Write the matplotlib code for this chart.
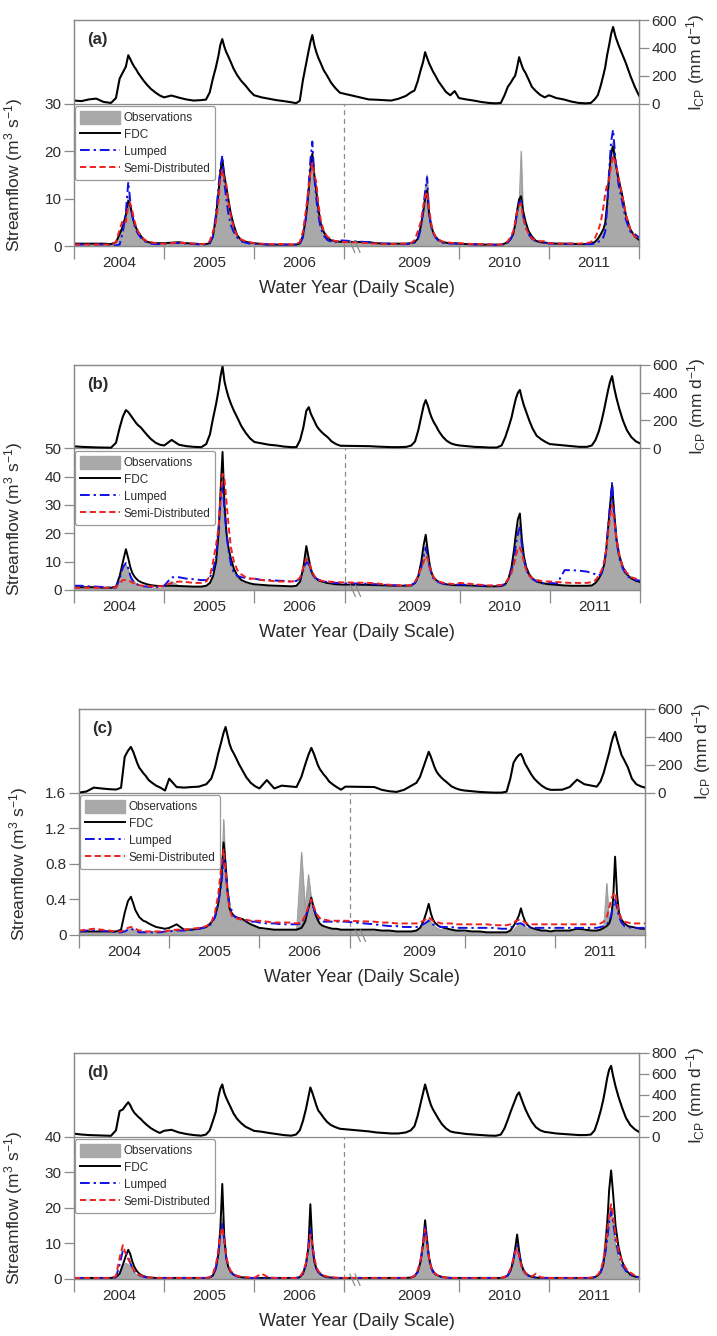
#!/usr/bin/env python3
"""Streamflow (obs / FDC / lumped / semi-distributed) with I_CP panels, four catchments."""

import matplotlib

matplotlib.use("Agg")
import matplotlib.pyplot as plt
import numpy as np
from matplotlib.lines import Line2D
from matplotlib.patches import Patch
from matplotlib.transforms import blended_transform_factory

# ---- time axis: three water years, a break, three water years (days) ----
YEARS = ["2004", "2005", "2006", "2009", "2010", "2011"]
YEAR_START = [0, 365, 730, 1195, 1560, 1925]
YEAR_END = 2290
BREAK_DAY = 1095
OFFSETS = [0, 30, 60, 90, 120, 150, 170, 185, 198, 210, 220, 228, 236, 244, 252, 260, 270, 282, 296, 312, 330, 348]

# ---- panel (a) ----
A_ICP = [22, 18, 30, 36, 12, 5, 40, 180, 224, 265, 347, 320, 290, 265, 245, 220, 195, 165, 135, 105, 80, 58,
         45, 58, 43, 30, 22, 25, 29, 80, 180, 260, 340, 420, 463, 410, 370, 340, 300, 250, 205, 165, 130, 90,
         60, 45, 35, 25, 18, 10, 3, 20, 170, 280, 370, 440, 492, 420, 370, 330, 290, 240, 200, 150, 110, 78,
         30, 28, 25, 22, 35, 55, 80, 94, 160, 240, 300, 369, 330, 290, 260, 230, 200, 160, 125, 85, 60, 90,
         40, 30, 22, 12, 5, 2, 5, 60, 120, 150, 180, 200, 260, 333, 290, 250, 220, 175, 120, 90, 62, 45,
         60, 40, 30, 15, 5, 2, 5, 30, 60, 130, 200, 260, 350, 420, 500, 550, 480, 420, 360, 290, 200, 120,
         58]
A_OBS = [0.4, 0.4, 0.4, 0.4, 0.4, 0.3, 0.6, 2.0, 4.0, 6.8, 10.5, 8.8, 6.6, 4.6, 3.5, 2.7, 2.0, 1.3, 0.8, 0.6, 0.5, 0.5,
         0.5, 0.6, 0.6, 0.5, 0.4, 0.3, 0.3, 0.5, 1.6, 5.5, 10.5, 15.0, 17.5, 14.0, 11.5, 9.0, 6.2, 4.0, 2.0, 1.1, 0.7, 0.5,
         0.5, 0.3, 0.2, 0.2, 0.2, 0.2, 0.2, 0.4, 2.0, 5.5, 11.0, 16.5, 19.0, 14.0, 10.5, 7.0, 4.2, 2.6, 1.5, 1.0, 0.8, 0.8,
         0.7, 0.5, 0.4, 0.4, 0.4, 0.4, 0.5, 0.7, 1.3, 3.5, 7.0, 12.0, 15.0, 6.5, 4.0, 2.7, 1.8, 1.2, 0.8, 0.6, 0.5, 0.5,
         0.4, 0.3, 0.3, 0.3, 0.2, 0.2, 0.2, 0.4, 0.7, 1.3, 2.2, 4.0, 6.5, 9.0, 20.0, 7.0, 4.5, 2.8, 1.6, 0.9, 0.6, 0.5,
         0.5, 0.4, 0.4, 0.4, 0.3, 0.3, 0.4, 0.6, 1.2, 2.0, 3.0, 4.5, 8.5, 15.5, 20.5, 22.0, 18.0, 14.5, 10.5, 6.0, 3.2, 1.8,
         1.2]
A_FDC = [0.5, 0.5, 0.5, 0.5, 0.5, 0.4, 0.8, 2.5, 4.2, 6.5, 9.5, 8.5, 6.5, 4.8, 3.8, 3.0, 2.2, 1.4, 0.9, 0.7, 0.6, 0.6,
         0.6, 0.7, 0.8, 0.6, 0.5, 0.4, 0.4, 0.6, 2.0, 6.0, 11.0, 15.5, 18.4, 15.0, 12.5, 10.0, 7.0, 4.5, 2.3, 1.3, 0.9, 0.7,
         0.6, 0.4, 0.3, 0.3, 0.3, 0.3, 0.3, 0.5, 2.2, 6.0, 11.0, 16.0, 19.5, 15.0, 11.7, 8.0, 4.8, 3.0, 1.8, 1.2, 1.0, 0.9,
         0.8, 0.6, 0.5, 0.5, 0.5, 0.5, 0.6, 0.8, 1.5, 4.0, 7.0, 10.0, 11.7, 7.0, 4.5, 3.0, 2.0, 1.3, 0.9, 0.7, 0.6, 0.6,
         0.5, 0.4, 0.4, 0.3, 0.3, 0.3, 0.3, 0.5, 0.8, 1.5, 2.5, 4.5, 7.5, 9.8, 10.5, 7.5, 5.2, 3.2, 2.0, 1.1, 0.8, 0.7,
         0.6, 0.5, 0.5, 0.5, 0.4, 0.4, 0.5, 0.8, 1.5, 2.5, 3.5, 4.8, 9.0, 15.0, 19.5, 21.0, 17.5, 14.0, 11.0, 6.5, 3.5, 2.0,
         1.3]
A_LUM = [0.3, 0.3, 0.3, 0.3, 0.3, 0.2, 0.1, 0.3, 3.0, 7.0, 13.5, 9.5, 6.5, 4.5, 3.3, 2.5, 1.8, 1.2, 0.7, 0.5, 0.4, 0.4,
         0.5, 0.6, 0.6, 0.5, 0.4, 0.3, 0.3, 0.5, 2.0, 6.5, 12.0, 16.5, 19.0, 13.5, 10.0, 7.0, 4.5, 3.0, 1.8, 1.0, 0.7, 0.5,
         0.5, 0.4, 0.3, 0.3, 0.3, 0.3, 0.3, 0.4, 1.8, 6.0, 12.0, 18.0, 22.0, 14.5, 10.0, 6.5, 3.8, 2.2, 1.3, 0.9, 0.8, 1.2,
         0.8, 0.6, 0.5, 0.5, 0.4, 0.4, 0.5, 0.7, 1.2, 3.5, 7.5, 11.5, 14.5, 7.0, 4.2, 2.8, 1.8, 1.1, 0.7, 0.6, 0.5, 0.5,
         0.5, 0.4, 0.3, 0.3, 0.3, 0.2, 0.2, 0.4, 0.7, 1.5, 2.5, 4.5, 7.0, 9.0, 9.5, 6.5, 4.2, 2.5, 1.5, 1.0, 0.8, 0.8,
         0.5, 0.5, 0.4, 0.4, 0.4, 0.4, 0.4, 0.5, 0.8, 1.2, 1.8, 3.0, 8.0, 16.0, 22.0, 24.5, 18.0, 13.0, 9.5, 5.5, 3.0, 2.5,
         1.8]
A_SEMI = [0.3, 0.3, 0.3, 0.3, 0.3, 0.3, 0.8, 3.5, 5.5, 5.0, 8.5, 9.0, 7.5, 5.5, 4.0, 3.0, 2.2, 1.5, 1.0, 0.8, 0.6, 0.5,
          0.5, 0.6, 0.7, 0.6, 0.5, 0.4, 0.5, 1.0, 3.0, 5.0, 9.0, 14.0, 16.0, 14.0, 13.0, 9.5, 6.5, 4.0, 2.2, 1.4, 1.0, 0.8,
          0.6, 0.5, 0.4, 0.4, 0.4, 0.3, 0.4, 0.8, 3.0, 7.5, 12.0, 15.5, 17.5, 15.0, 13.5, 9.0, 5.5, 3.2, 2.0, 1.4, 1.0, 0.9,
          0.6, 0.5, 0.4, 0.4, 0.5, 0.5, 0.6, 1.2, 3.0, 5.0, 8.0, 10.5, 11.5, 8.0, 5.0, 3.2, 2.0, 1.4, 1.0, 0.8, 0.7, 0.6,
          0.6, 0.5, 0.4, 0.4, 0.3, 0.3, 0.3, 0.6, 1.0, 2.0, 3.0, 5.0, 7.5, 8.5, 9.0, 6.0, 4.0, 2.6, 1.6, 1.2, 1.0, 1.0,
          0.6, 0.5, 0.5, 0.5, 0.5, 0.6, 0.8, 1.5, 3.0, 5.0, 8.0, 11.0, 13.0, 14.0, 17.0, 19.0, 17.5, 14.5, 11.0, 6.5, 3.5, 2.0,
          1.5]

# ---- panel (b) ----
B_ICP = [14, 10, 8, 6, 5, 4, 40, 150, 230, 275, 260, 240, 220, 200, 180, 165, 150, 125, 95, 65, 40, 25,
         20, 60, 25, 15, 10, 8, 30, 100, 220, 320, 420, 520, 590, 480, 420, 370, 320, 270, 220, 160, 110, 70,
         45, 35, 25, 20, 12, 8, 8, 60, 150, 270, 296, 250, 220, 190, 160, 140, 120, 100, 80, 50, 30, 18,
         15, 12, 10, 8, 8, 10, 20, 50, 130, 230, 310, 347, 310, 260, 220, 190, 160, 120, 85, 55, 35, 25,
         20, 15, 10, 8, 5, 5, 20, 80, 150, 220, 300, 360, 400, 420, 360, 310, 260, 200, 140, 90, 65, 45,
         30, 25, 20, 15, 10, 10, 20, 60, 120, 200, 280, 350, 420, 480, 520, 440, 360, 280, 200, 130, 80, 50,
         35]
B_OBS = [0.5, 0.5, 0.5, 0.5, 0.5, 0.5, 0.8, 3.5, 7.5, 9.0, 7.0, 5.0, 3.8, 3.0, 2.4, 2.0, 1.6, 1.3, 1.0, 0.8, 0.7, 0.6,
         1.2, 3.0, 1.5, 1.2, 1.0, 1.0, 1.2, 2.0, 4.0, 9.0, 18.0, 33.0, 45.0, 28.0, 18.0, 13.0, 9.0, 6.0, 4.0, 2.8, 2.2, 1.8,
         1.5, 1.3, 1.2, 1.1, 1.0, 1.0, 1.2, 2.5, 7.0, 13.0, 9.0, 6.0, 4.5, 3.5, 3.0, 2.6, 2.3, 2.0, 1.8, 1.6, 1.5, 1.4,
         1.3, 1.2, 1.1, 1.0, 1.0, 1.0, 1.2, 2.0, 4.0, 8.0, 13.0, 16.0, 11.0, 7.0, 5.0, 3.5, 2.7, 2.2, 1.8, 1.5, 1.3, 1.2,
         1.2, 1.1, 1.0, 1.0, 1.0, 1.0, 1.1, 1.6, 3.5, 7.0, 12.0, 18.0, 22.0, 24.0, 16.0, 10.0, 7.0, 4.8, 3.3, 2.4, 2.0, 1.8,
         1.5, 1.4, 1.3, 1.2, 1.2, 1.2, 1.3, 2.0, 3.5, 5.5, 8.5, 13.0, 20.0, 28.0, 34.0, 26.0, 16.0, 10.0, 6.5, 4.5, 3.2, 2.6,
         2.3]
B_FDC = [1.0, 1.0, 1.0, 1.0, 0.8, 0.8, 1.2, 5.0, 10.0, 14.4, 11.0, 8.0, 6.0, 4.8, 4.0, 3.3, 2.8, 2.4, 2.0, 1.7, 1.5, 1.4,
         1.5, 1.5, 1.4, 1.3, 1.2, 1.2, 1.5, 2.5, 5.0, 10.0, 20.0, 35.0, 48.7, 30.0, 20.0, 15.0, 11.0, 7.5, 5.0, 3.5, 2.8, 2.3,
         2.0, 1.8, 1.6, 1.5, 1.4, 1.3, 1.5, 3.0, 8.0, 15.5, 11.0, 7.5, 5.5, 4.5, 3.8, 3.3, 3.0, 2.7, 2.4, 2.2, 2.0, 1.9,
         1.8, 1.7, 1.6, 1.5, 1.5, 1.5, 1.6, 2.5, 5.0, 10.0, 16.0, 19.5, 14.0, 9.0, 6.0, 4.5, 3.5, 2.8, 2.3, 2.0, 1.8, 1.7,
         1.7, 1.6, 1.5, 1.4, 1.3, 1.3, 1.4, 2.0, 4.0, 8.0, 14.0, 20.0, 25.0, 27.0, 18.0, 12.0, 8.0, 5.5, 4.0, 3.0, 2.5, 2.2,
         2.0, 1.8, 1.6, 1.5, 1.5, 1.5, 1.6, 2.5, 4.0, 6.0, 9.0, 14.0, 22.0, 30.0, 37.0, 28.0, 18.0, 12.0, 8.0, 5.5, 4.0, 3.2,
         2.8]
B_LUM = [1.5, 1.5, 1.3, 1.2, 1.0, 0.8, 0.8, 4.0, 8.0, 9.5, 7.5, 5.0, 3.5, 2.8, 2.2, 1.8, 1.5, 1.3, 1.2, 1.1, 1.0, 1.0,
         1.5, 4.5, 4.5, 4.0, 3.8, 3.5, 3.5, 4.5, 7.0, 12.0, 22.0, 32.0, 37.0, 28.0, 20.0, 14.0, 9.0, 6.0, 5.0, 4.5, 4.3, 4.0,
         4.0, 3.5, 3.5, 3.3, 3.2, 3.0, 3.2, 4.0, 7.0, 10.0, 9.0, 7.0, 5.5, 4.5, 4.0, 3.6, 3.3, 3.0, 2.8, 2.6, 2.5, 2.4,
         2.2, 2.0, 1.8, 1.7, 1.6, 1.6, 1.8, 2.5, 4.5, 8.0, 12.0, 15.0, 12.0, 8.0, 5.5, 4.0, 3.2, 2.7, 2.3, 2.0, 1.9, 1.8,
         2.0, 1.8, 1.7, 1.6, 1.5, 1.5, 1.6, 2.2, 4.0, 7.0, 11.0, 16.0, 20.0, 22.0, 16.0, 11.0, 7.0, 5.0, 3.8, 3.0, 2.5, 2.3,
         2.5, 2.3, 7.0, 7.0, 6.8, 6.5, 6.0, 5.5, 5.0, 6.0, 9.0, 14.0, 22.0, 30.0, 38.0, 27.0, 17.0, 11.0, 7.5, 5.0, 4.0, 3.5,
         3.3]
B_SEMI = [0.8, 0.8, 0.8, 0.8, 0.8, 0.8, 1.0, 2.5, 3.5, 3.5, 3.3, 3.0, 2.6, 2.3, 2.0, 1.8, 1.6, 1.5, 1.4, 1.3, 1.3, 1.3,
          1.5, 2.5, 3.0, 2.8, 2.5, 2.5, 3.0, 5.0, 10.0, 16.0, 22.0, 33.0, 41.0, 39.0, 31.0, 23.0, 15.0, 10.0, 7.0, 5.5, 4.5, 4.0,
          4.0, 3.5, 3.3, 3.0, 3.0, 3.0, 3.2, 4.5, 8.0, 11.0, 10.0, 8.0, 6.0, 4.8, 4.0, 3.6, 3.3, 3.1, 3.0, 2.9, 2.8, 2.7,
          2.5, 2.3, 2.0, 1.8, 1.6, 1.6, 1.8, 3.0, 5.0, 8.0, 10.0, 12.0, 11.0, 8.0, 6.0, 4.5, 3.5, 3.0, 2.6, 2.3, 2.2, 2.0,
          2.5, 2.3, 2.0, 1.8, 1.6, 1.6, 1.8, 2.5, 4.0, 6.0, 9.0, 12.0, 15.0, 15.0, 13.0, 10.0, 7.0, 5.0, 4.0, 3.5, 3.2, 3.0,
          3.0, 2.8, 2.6, 2.5, 2.5, 2.5, 2.8, 3.5, 5.0, 7.0, 10.0, 14.0, 20.0, 26.0, 30.0, 25.0, 18.0, 12.0, 8.0, 6.0, 4.5, 4.0,
          3.5]

# ---- panel (c) ----
C_ICP = [0, 8, 36, 30, 25, 22, 35, 257, 300, 328, 290, 250, 210, 178, 160, 140, 120, 90, 70, 50, 35, 15,
         100, 40, 36, 40, 43, 60, 100, 180, 280, 360, 430, 471, 410, 350, 310, 285, 250, 205, 160, 110, 70, 45,
         30, 90, 30, 50, 45, 40, 114, 200, 270, 321, 280, 240, 200, 170, 150, 130, 110, 80, 60, 40, 21, 43,
         40, 20, 10, 5, 20, 50, 70, 114, 180, 240, 293, 260, 220, 180, 150, 130, 110, 90, 70, 45, 30, 20,
         15, 10, 5, 2, 0, 0, 7, 100, 214, 250, 270, 278, 250, 210, 185, 160, 130, 100, 75, 50, 30, 20,
         20, 21, 40, 93, 60, 50, 43, 80, 143, 220, 286, 350, 400, 436, 380, 330, 270, 230, 180, 100, 60, 45,
         36]
C_OBS = [0.03, 0.03, 0.03, 0.03, 0.03, 0.03, 0.03, 0.04, 0.06, 0.07, 0.06, 0.05, 0.05, 0.04, 0.04, 0.04, 0.04, 0.04, 0.04, 0.04, 0.04, 0.04,
         0.05, 0.06, 0.05, 0.05, 0.06, 0.08, 0.12, 0.18, 0.3, 0.55, 1.3, 0.75, 0.45, 0.3, 0.25, 0.22, 0.2, 0.18, 0.16, 0.14, 0.12, 0.1,
         0.06, 0.05, 0.05, 0.05, 0.05, 0.05, 0.93, 0.3, 0.68, 0.4, 0.3, 0.22, 0.16, 0.12, 0.1, 0.09, 0.08, 0.07, 0.06, 0.06, 0.05, 0.05,
         0.04, 0.04, 0.04, 0.04, 0.04, 0.04, 0.05, 0.07, 0.1, 0.15, 0.18, 0.15, 0.12, 0.1, 0.08, 0.07, 0.06, 0.06, 0.05, 0.05, 0.04, 0.04,
         0.03, 0.03, 0.03, 0.03, 0.03, 0.03, 0.03, 0.04, 0.06, 0.09, 0.12, 0.14, 0.12, 0.1, 0.08, 0.07, 0.06, 0.05, 0.05, 0.04, 0.04, 0.04,
         0.04, 0.04, 0.04, 0.05, 0.04, 0.04, 0.05, 0.07, 0.1, 0.58, 0.15, 0.2, 0.3, 0.4, 0.3, 0.2, 0.14, 0.1, 0.08, 0.07, 0.06, 0.06,
         0.06]
C_FDC = [0.04, 0.04, 0.04, 0.04, 0.04, 0.04, 0.06, 0.25, 0.38, 0.43, 0.35, 0.28, 0.24, 0.2, 0.18, 0.16, 0.15, 0.13, 0.11, 0.09, 0.08, 0.07,
         0.08, 0.12, 0.06, 0.06, 0.07, 0.09, 0.14, 0.2, 0.35, 0.6, 1.04, 0.8, 0.5, 0.3, 0.25, 0.22, 0.2, 0.19, 0.18, 0.15, 0.12, 0.1,
         0.08, 0.07, 0.06, 0.06, 0.06, 0.06, 0.08, 0.15, 0.3, 0.42, 0.3, 0.22, 0.17, 0.13, 0.11, 0.1, 0.09, 0.08, 0.07, 0.07, 0.06, 0.06,
         0.06, 0.05, 0.05, 0.04, 0.04, 0.04, 0.05, 0.08, 0.15, 0.25, 0.35, 0.25, 0.18, 0.14, 0.12, 0.1, 0.09, 0.08, 0.07, 0.06, 0.05, 0.05,
         0.05, 0.04, 0.04, 0.03, 0.03, 0.03, 0.03, 0.05, 0.1, 0.16, 0.22, 0.3, 0.22, 0.16, 0.12, 0.1, 0.08, 0.07, 0.06, 0.05, 0.05, 0.04,
         0.05, 0.05, 0.05, 0.07, 0.06, 0.05, 0.05, 0.06, 0.08, 0.1, 0.13, 0.2, 0.4, 0.88, 0.45, 0.25, 0.17, 0.13, 0.1, 0.09, 0.08, 0.07,
         0.07]
C_LUM = [0.04, 0.05, 0.05, 0.05, 0.04, 0.03, 0.03, 0.04, 0.06, 0.07, 0.06, 0.05, 0.04, 0.03, 0.03, 0.03, 0.03, 0.03, 0.03, 0.03, 0.03, 0.04,
         0.04, 0.05, 0.05, 0.06, 0.07, 0.09, 0.12, 0.2, 0.35, 0.55, 0.85, 0.7, 0.5, 0.35, 0.28, 0.22, 0.2, 0.18, 0.17, 0.16, 0.15, 0.15,
         0.14, 0.13, 0.13, 0.12, 0.12, 0.12, 0.13, 0.2, 0.3, 0.38, 0.3, 0.24, 0.2, 0.17, 0.16, 0.15, 0.15, 0.15, 0.15, 0.15, 0.15, 0.15,
         0.12, 0.11, 0.1, 0.1, 0.09, 0.09, 0.09, 0.1, 0.12, 0.14, 0.16, 0.14, 0.12, 0.11, 0.1, 0.1, 0.09, 0.09, 0.09, 0.09, 0.08, 0.08,
         0.08, 0.08, 0.08, 0.08, 0.08, 0.07, 0.07, 0.08, 0.1, 0.12, 0.13, 0.13, 0.12, 0.1, 0.09, 0.09, 0.08, 0.08, 0.08, 0.08, 0.08, 0.08,
         0.08, 0.08, 0.08, 0.08, 0.08, 0.08, 0.08, 0.09, 0.1, 0.12, 0.15, 0.22, 0.32, 0.4, 0.3, 0.2, 0.14, 0.1, 0.09, 0.08, 0.08, 0.08,
         0.08]
C_SEMI = [0.05, 0.06, 0.07, 0.06, 0.05, 0.04, 0.04, 0.06, 0.08, 0.09, 0.08, 0.07, 0.06, 0.05, 0.05, 0.04, 0.04, 0.04, 0.04, 0.04, 0.04, 0.04,
          0.05, 0.06, 0.06, 0.07, 0.08, 0.1, 0.14, 0.25, 0.45, 0.75, 0.96, 0.75, 0.45, 0.3, 0.22, 0.2, 0.19, 0.18, 0.18, 0.17, 0.16, 0.16,
          0.16, 0.15, 0.14, 0.14, 0.14, 0.13, 0.14, 0.22, 0.32, 0.4, 0.32, 0.26, 0.22, 0.19, 0.18, 0.17, 0.17, 0.16, 0.16, 0.16, 0.16, 0.16,
          0.15, 0.14, 0.14, 0.13, 0.13, 0.13, 0.13, 0.14, 0.16, 0.18, 0.2, 0.18, 0.16, 0.15, 0.14, 0.14, 0.13, 0.13, 0.13, 0.13, 0.12, 0.12,
          0.12, 0.12, 0.12, 0.12, 0.11, 0.11, 0.11, 0.12, 0.14, 0.16, 0.17, 0.17, 0.16, 0.14, 0.13, 0.13, 0.12, 0.12, 0.12, 0.12, 0.12, 0.12,
          0.12, 0.12, 0.12, 0.12, 0.12, 0.12, 0.12, 0.13, 0.15, 0.2, 0.3, 0.4, 0.45, 0.48, 0.35, 0.25, 0.18, 0.15, 0.14, 0.13, 0.13, 0.13,
          0.13]

# ---- panel (d) ----
D_ICP = [28, 20, 15, 12, 10, 8, 60, 245, 260, 300, 329, 300, 260, 230, 210, 190, 170, 140, 110, 80, 55, 35,
         56, 65, 40, 25, 15, 9, 20, 60, 150, 240, 380, 460, 499, 420, 370, 330, 280, 220, 170, 130, 95, 75,
         55, 47, 35, 25, 15, 9, 20, 60, 150, 263, 380, 470, 420, 360, 300, 250, 220, 180, 140, 110, 90, 75,
         50, 40, 35, 30, 30, 40, 60, 100, 200, 320, 420, 499, 430, 360, 300, 260, 220, 170, 120, 80, 50, 40,
         35, 25, 20, 15, 10, 8, 20, 80, 160, 240, 300, 350, 400, 423, 370, 320, 260, 200, 140, 90, 60, 45,
         40, 30, 25, 20, 15, 15, 20, 60, 150, 250, 350, 450, 560, 640, 677, 580, 480, 380, 280, 180, 110, 70,
         45]
D_OBS = [0.2, 0.2, 0.2, 0.2, 0.2, 0.2, 0.3, 1.5, 3.5, 4.5, 4.0, 3.5, 2.5, 1.8, 1.3, 1.0, 0.7, 0.5, 0.4, 0.3, 0.2, 0.2,
         0.2, 0.2, 0.2, 0.2, 0.2, 0.2, 0.2, 0.3, 0.8, 2.5, 6.5, 12.0, 17.0, 10.0, 5.0, 3.0, 1.7, 1.0, 0.6, 0.4, 0.3, 0.2,
         0.2, 0.2, 0.2, 0.2, 0.2, 0.2, 0.2, 0.4, 1.2, 3.5, 8.0, 11.5, 8.0, 4.5, 2.5, 1.6, 1.0, 0.6, 0.4, 0.3, 0.2, 0.2,
         0.2, 0.2, 0.2, 0.2, 0.2, 0.2, 0.3, 0.6, 1.8, 4.5, 9.0, 14.5, 10.0, 5.5, 3.0, 1.9, 1.2, 0.8, 0.5, 0.3, 0.2, 0.2,
         0.2, 0.2, 0.2, 0.2, 0.2, 0.2, 0.2, 0.4, 0.8, 2.0, 4.5, 8.0, 10.0, 7.0, 4.0, 2.5, 1.5, 0.9, 0.5, 0.3, 0.2, 0.2,
         0.2, 0.2, 0.2, 0.2, 0.2, 0.2, 0.2, 0.4, 1.0, 2.5, 6.0, 12.0, 18.0, 20.0, 19.0, 15.0, 9.0, 5.5, 3.0, 1.5, 0.8, 0.5,
         0.4]
D_FDC = [0.3, 0.3, 0.3, 0.3, 0.3, 0.3, 0.5, 1.5, 4.0, 6.5, 8.2, 7.0, 5.0, 3.5, 2.5, 1.8, 1.2, 0.8, 0.5, 0.4, 0.3, 0.3,
         0.3, 0.3, 0.3, 0.3, 0.3, 0.3, 0.3, 0.4, 1.0, 3.0, 7.0, 14.0, 26.7, 12.0, 6.0, 3.5, 2.0, 1.2, 0.8, 0.5, 0.4, 0.3,
         0.3, 0.3, 0.3, 0.3, 0.3, 0.3, 0.3, 0.5, 1.5, 4.0, 9.0, 21.0, 10.0, 5.0, 3.0, 2.0, 1.3, 0.8, 0.5, 0.4, 0.3, 0.3,
         0.3, 0.3, 0.3, 0.3, 0.3, 0.3, 0.4, 0.8, 2.0, 5.0, 10.0, 16.5, 11.0, 6.0, 3.5, 2.2, 1.4, 0.9, 0.6, 0.4, 0.3, 0.3,
         0.3, 0.3, 0.3, 0.3, 0.3, 0.3, 0.3, 0.5, 1.0, 2.5, 5.0, 8.5, 12.5, 8.0, 4.5, 2.8, 1.7, 1.0, 0.6, 0.4, 0.3, 0.3,
         0.3, 0.3, 0.3, 0.3, 0.3, 0.3, 0.3, 0.5, 1.0, 2.0, 4.0, 8.0, 15.0, 25.0, 30.5, 24.0, 15.0, 9.0, 5.0, 2.5, 1.2, 0.7,
         0.5]
D_LUM = [0.3, 0.3, 0.3, 0.3, 0.3, 0.3, 0.5, 4.0, 8.0, 7.5, 6.0, 4.5, 3.2, 2.2, 1.6, 1.2, 0.9, 0.6, 0.4, 0.3, 0.3, 0.3,
         0.3, 0.3, 0.3, 0.3, 0.3, 0.3, 0.3, 0.4, 1.0, 3.0, 7.0, 12.0, 15.5, 11.0, 6.0, 3.5, 2.0, 1.2, 0.7, 0.5, 0.4, 0.3,
         0.3, 0.3, 0.3, 0.3, 0.3, 0.3, 0.3, 0.5, 1.5, 4.0, 9.0, 14.0, 9.0, 5.0, 3.0, 2.0, 1.3, 0.8, 0.5, 0.4, 0.3, 0.3,
         0.3, 0.3, 0.3, 0.3, 0.3, 0.3, 0.4, 0.8, 2.0, 5.0, 10.0, 15.0, 10.5, 5.5, 3.2, 2.0, 1.3, 0.8, 0.5, 0.4, 0.3, 0.3,
         0.3, 0.3, 0.3, 0.3, 0.3, 0.3, 0.3, 0.5, 1.0, 2.5, 5.0, 8.0, 9.5, 7.0, 4.0, 2.5, 1.5, 0.9, 0.6, 0.4, 0.3, 0.3,
         0.3, 0.3, 0.3, 0.3, 0.3, 0.3, 0.3, 0.5, 1.0, 2.0, 4.0, 7.0, 11.0, 16.0, 19.0, 16.0, 11.0, 7.0, 4.0, 2.2, 1.2, 0.7,
         0.5]
D_SEMI = [0.3, 0.3, 0.3, 0.3, 0.3, 0.3, 0.8, 6.0, 9.5, 7.0, 5.5, 4.5, 3.3, 2.3, 1.7, 1.3, 1.0, 0.7, 0.5, 0.4, 0.3, 0.3,
          0.3, 0.3, 0.3, 0.3, 0.3, 0.3, 0.3, 0.5, 1.5, 4.0, 8.0, 12.5, 14.5, 11.0, 6.5, 4.0, 2.3, 1.4, 0.9, 0.6, 0.5, 0.4,
          0.3, 1.5, 0.4, 0.3, 0.3, 0.3, 0.3, 0.6, 2.0, 4.5, 9.0, 12.5, 10.0, 6.0, 3.5, 2.3, 1.5, 1.0, 0.7, 0.5, 0.4, 0.3,
          0.3, 0.3, 0.3, 0.3, 0.3, 0.3, 0.4, 0.9, 2.5, 5.5, 10.0, 14.0, 10.0, 6.0, 3.5, 2.2, 1.4, 0.9, 0.6, 0.4, 0.3, 0.3,
          0.3, 0.3, 0.3, 0.3, 0.3, 0.3, 0.3, 0.6, 1.3, 3.0, 5.5, 7.5, 8.5, 6.5, 4.0, 2.5, 1.6, 1.0, 0.7, 1.5, 0.5, 0.4,
          0.3, 0.3, 0.3, 0.3, 0.3, 0.3, 0.4, 0.6, 1.2, 2.5, 5.0, 8.5, 13.0, 18.0, 21.0, 18.0, 12.5, 8.0, 5.0, 3.0, 1.8, 1.0,
          0.7]

# ---- axis scales per panel ----
TAGS = ["(a)", "(b)", "(c)", "(d)"]
Q_TICKS = [[0, 10, 20, 30], [0, 10, 20, 30, 40, 50], [0, 0.4, 0.8, 1.2, 1.6], [0, 10, 20, 30, 40]]
Q_LABELS = [["0", "10", "20", "30"], ["0", "10", "20", "30", "40", "50"],
            ["0", "0.4", "0.8", "1.2", "1.6"], ["0", "10", "20", "30", "40"]]
ICP_TICKS = [[0, 200, 400, 600], [0, 200, 400, 600], [0, 200, 400, 600], [0, 200, 400, 600, 800]]

# pixel boxes (left, top, right, bottom) of each framed panel
BOXES = [(74, 20, 639, 246), (74, 365, 640, 590), (79, 709, 645, 935), (74, 1053, 639, 1279)]
SPLIT = 0.63  # fraction of frame height used by streamflow

W, H = 717, 1336
GRAY = "#8a8a8a"
TXT = "#2b2b2b"
OBS_C = "#a9a9a9"
BLUE = "#1010e6"
RED = "#ee2020"


def _style() -> None:
    plt.rcParams.update(
        {
            "font.family": ["Liberation Sans", "DejaVu Sans"],
            "mathtext.fontset": "custom",
            "mathtext.rm": "Liberation Sans",
            "mathtext.it": "Liberation Sans:italic",
            "text.color": TXT,
            "axes.labelcolor": TXT,
            "xtick.color": GRAY,
            "ytick.color": GRAY,
            "xtick.labelcolor": TXT,
            "ytick.labelcolor": TXT,
            "axes.edgecolor": GRAY,
            "axes.linewidth": 0.9,
        }
    )


def _panel(fig, box, tag, icp, obs, fdc, lum, semi, qticks, qlabels, iticks, show_legend=True):
    left, top, right, bottom = box
    rect = [left / W, 1 - bottom / H, (right - left) / W, (bottom - top) / H]
    ax = fig.add_axes(rect)
    days = np.array([s + o for s in YEAR_START for o in OFFSETS] + [YEAR_END], dtype=float)
    for name, arr in (("icp", icp), ("obs", obs), ("fdc", fdc), ("lum", lum), ("semi", semi)):
        if len(arr) != len(days):
            raise RuntimeError(f"{tag} {name}: {len(arr)} values, expected {len(days)}")

    q_top = qticks[-1]
    ax.set_xlim(0, YEAR_END)
    ax.set_ylim(0, q_top / SPLIT)

    ax.fill_between(days, 0, obs, color=OBS_C, lw=0.6, zorder=1)
    ax.plot(days, obs, color="#9a9a9a", lw=0.6, zorder=1)
    ax.plot(days, fdc, color="black", lw=1.4, zorder=3)
    ax.plot(days, lum, color=BLUE, lw=1.4, dashes=(5, 2, 1.2, 2), zorder=4)
    ax.plot(days, semi, color=RED, lw=1.4, dashes=(3.2, 1.8), zorder=4)

    # split line between panels and dashed break line
    ax.axhline(q_top, color=GRAY, lw=0.9, zorder=2)
    ax.plot([BREAK_DAY, BREAK_DAY], [0, q_top], color=GRAY, lw=0.9, dashes=(4, 3), zorder=2)
    trans = blended_transform_factory(ax.transData, ax.transAxes)
    for x0 in (1118, 1139):
        ax.plot([x0, x0 + 20], [0.022, -0.028], transform=trans, color=GRAY, lw=0.9, clip_on=False, zorder=5)

    # left axis
    ax.set_yticks(qticks)
    ax.set_yticklabels(qlabels)
    ax.tick_params(axis="y", direction="out", length=7, width=0.9, pad=2, labelsize=11)
    ax.set_ylabel("Streamflow (m$^{3}$ s$^{-1}$)", fontsize=12.5)
    ax.yaxis.set_label_coords(-0.087, SPLIT / 2)

    # x axis: year boundaries as ticks, labels centred in each year
    ax.set_xticks([0, 365, 730, BREAK_DAY, 1560, 1925, YEAR_END])
    ax.set_xticklabels([])
    ax.set_xticks([s + 182.5 for s in YEAR_START], minor=True)
    ax.set_xticklabels(YEARS, minor=True)
    ax.tick_params(axis="x", which="major", direction="out", length=9, width=0.9)
    ax.tick_params(axis="x", which="minor", length=0, pad=7, labelsize=11)
    ax.set_xlabel("Water Year (Daily Scale)", fontsize=13)
    ax.xaxis.set_label_coords(0.5, -0.15)

    # I_CP on the right, occupying the top part
    ax2 = ax.twinx()
    icp_top = iticks[-1]
    ax2.set_ylim(-icp_top * SPLIT / (1 - SPLIT), icp_top)
    ax2.plot(days, icp, color="black", lw=1.5)
    ax2.set_yticks(iticks)
    ax2.tick_params(axis="y", direction="out", length=7, width=0.9, pad=2, labelsize=11)
    ax2.set_ylabel("I$_{\\mathrm{CP}}$ (mm d$^{-1}$)", fontsize=12.5, rotation=90)
    ax2.yaxis.set_label_coords(1.08, SPLIT + (1 - SPLIT) / 2)

    ax.text(0.023, 0.945, tag, transform=ax.transAxes, fontsize=12, fontweight="bold", va="top", ha="left")

    if show_legend:
        handles = [
            Patch(facecolor=OBS_C, edgecolor=OBS_C),
            Line2D([], [], color="black", lw=1.4),
            Line2D([], [], color=BLUE, lw=1.4, dashes=(5, 2, 1.2, 2)),
            Line2D([], [], color=RED, lw=1.4, dashes=(3.2, 1.8)),
        ]
        leg = ax.legend(
            handles,
            ["Observations", "FDC", "Lumped", "Semi-Distributed"],
            loc="upper left",
            bbox_to_anchor=(0.002, SPLIT - 0.012),
            fontsize=8.5,
            handlelength=3.4,
            handleheight=1.3,
            handletextpad=0.3,
            labelspacing=0.3,
            borderpad=0.4,
            borderaxespad=0.0,
            fancybox=True,
            framealpha=1.0,
            edgecolor="#9a9a9a",
        )
        leg.get_frame().set_linewidth(0.9)
        leg.set_zorder(10)
    return ax


def main() -> None:
    _style()
    fig = plt.figure(figsize=(W / 100, H / 100), dpi=100)
    series = [
        (A_ICP, A_OBS, A_FDC, A_LUM, A_SEMI),
        (B_ICP, B_OBS, B_FDC, B_LUM, B_SEMI),
        (C_ICP, C_OBS, C_FDC, C_LUM, C_SEMI),
        (D_ICP, D_OBS, D_FDC, D_LUM, D_SEMI),
    ]
    for i, (icp, obs, fdc, lum, semi) in enumerate(series):
        _panel(fig, BOXES[i], TAGS[i], icp, obs, fdc, lum, semi, Q_TICKS[i], Q_LABELS[i], ICP_TICKS[i])
    fig.savefig("out.png", dpi=100)
    plt.close(fig)


if __name__ == "__main__":
    main()
